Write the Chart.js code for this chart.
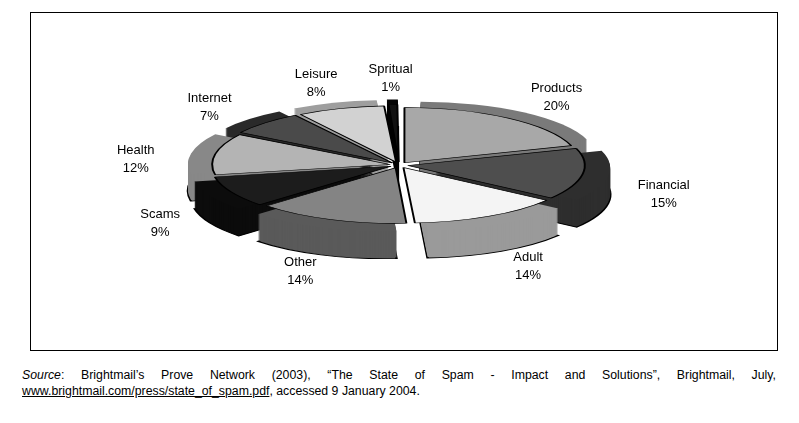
<!DOCTYPE html>
<html><head><meta charset="utf-8">
<script src="https://cdn.jsdelivr.net/npm/chart.js@4"></script>
<style>
body{margin:0;background:#fff;width:799px;height:423px;position:relative;font-family:"Liberation Sans",Arial,sans-serif;}
#box{position:absolute;left:30px;top:12px;width:746px;height:337px;border:1px solid #000;}
#src{position:absolute;left:22px;top:367px;width:754px;font-size:12.3px;line-height:16px;text-align:justify;text-align-last:left;color:#000;}
</style></head><body>
<div id="box"><canvas id="c" width="746" height="337"></canvas></div>
<div id="src"><i>Source</i>: Brightmail’s Prove Network (2003), “The State of Spam - Impact and Solutions”, Brightmail, July, <u>www.brightmail.com/press/state_of_spam.pdf</u>, accessed 9 January 2004.</div>
<script>
const categories=["Products","Financial","Adult","Other","Scams","Health","Internet","Leisure","Spritual"];
const values=[20,15,14,14,9,12,7,8,1];
const colors=["#a8a8a8","#4e4e4e","#f4f4f4","#848484","#1c1c1c","#b4b4b4","#4a4a4a","#d2d2d2","#111111"];
const sideColors=["#7a7a7a","#2e2e2e","#9a9a9a","#5a5a5a","#0c0c0c","#888888","#2a2a2a","#9e9e9e","#050505"];
const CX=368,CY=152,RX=175,RY=55,DEPTH=28;
function tf(ctx,arc,dy){const sx=RX/arc.outerRadius,sy=RY/arc.outerRadius;ctx.translate(CX,CY+dy);ctx.scale(sx,sy);ctx.translate(-arc.x,-arc.y);}
function arcPath(ctx,a){const mid=(a.startAngle+a.endAngle)/2,off=a.options.offset||0;const x=a.x+Math.cos(mid)*off,y=a.y+Math.sin(mid)*off;ctx.beginPath();ctx.moveTo(x,y);ctx.arc(x,y,a.outerRadius,a.startAngle,a.endAngle);ctx.closePath();}
const squash={id:'squash',
beforeDatasetsDraw(chart){const ctx=chart.ctx;const arcs=chart.getDatasetMeta(0).data;
 for(let d=DEPTH;d>=1;d--){arcs.forEach((a,i)=>{ctx.save();tf(ctx,a,d);arcPath(ctx,a);ctx.fillStyle=sideColors[i];ctx.fill();if(d===DEPTH){ctx.lineWidth=a.outerRadius/RY*0.8;ctx.strokeStyle='#000';ctx.stroke();}ctx.restore();});}
 ctx.save();tf(ctx,arcs[0],0);},
afterDatasetsDraw(chart){const ctx=chart.ctx;ctx.restore();
 const arcs=chart.getDatasetMeta(0).data;ctx.save();ctx.fillStyle='#000';ctx.font='13px "Liberation Sans", Arial, sans-serif';ctx.textAlign='center';
 arcs.forEach((a,i)=>{const m=(a.startAngle+a.endAngle)/2;const x=CX+Math.cos(m)*268,y=CY+12+Math.sin(m)*100;
  ctx.fillText(categories[i],x,y-4);ctx.fillText(values[i]+'%',x,y+14);});ctx.restore();}};
new Chart(document.getElementById('c'),{type:'pie',
data:{labels:categories,datasets:[{data:values,backgroundColor:colors,borderColor:'#000',borderWidth:1.5,offset:28}]},
options:{responsive:false,animation:false,rotation:0,layout:{padding:20},plugins:{legend:{display:false},tooltip:{enabled:false}}},
plugins:[squash]});
</script></body></html>
